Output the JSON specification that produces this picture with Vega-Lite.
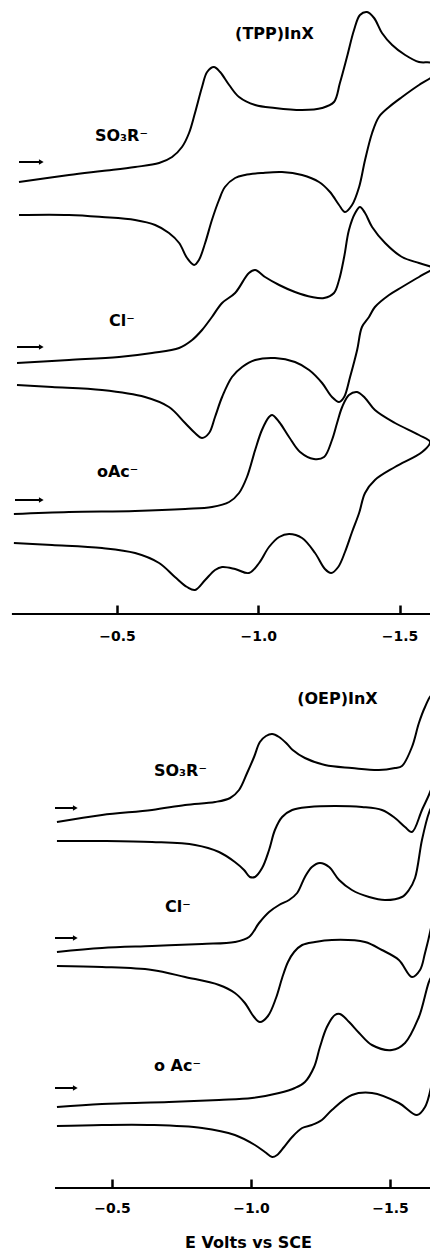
{
  "$schema": "https://vega.github.io/schema/vega-lite/v6.json",
  "background": "white",
  "padding": {"left": 10, "top": 0, "right": 0, "bottom": 0},
  "bounds": "flush",
  "spacing": 66,
  "config": {"view": {"stroke": null}},
  "datasets": {
    "cv": [
      {"p":"TPP","s":"SO3R","o":1,"E":-0.153,"i":432},{"p":"TPP","s":"SO3R","o":2,"E":-0.330,"i":439},{"p":"TPP","s":"SO3R","o":3,"E":-0.447,"i":443},{"p":"TPP","s":"SO3R","o":4,"E":-0.564,"i":447},{"p":"TPP","s":"SO3R","o":5,"E":-0.649,"i":451},{"p":"TPP","s":"SO3R","o":6,"E":-0.695,"i":457},{"p":"TPP","s":"SO3R","o":7,"E":-0.730,"i":467},{"p":"TPP","s":"SO3R","o":8,"E":-0.755,"i":481},{"p":"TPP","s":"SO3R","o":9,"E":-0.776,"i":501},{"p":"TPP","s":"SO3R","o":10,"E":-0.801,"i":527},{"p":"TPP","s":"SO3R","o":11,"E":-0.819,"i":542},{"p":"TPP","s":"SO3R","o":12,"E":-0.843,"i":547},{"p":"TPP","s":"SO3R","o":13,"E":-0.865,"i":542},{"p":"TPP","s":"SO3R","o":14,"E":-0.897,"i":529},{"p":"TPP","s":"SO3R","o":15,"E":-0.932,"i":517},{"p":"TPP","s":"SO3R","o":16,"E":-0.989,"i":509},{"p":"TPP","s":"SO3R","o":17,"E":-1.059,"i":506},{"p":"TPP","s":"SO3R","o":18,"E":-1.155,"i":504},{"p":"TPP","s":"SO3R","o":19,"E":-1.226,"i":506},{"p":"TPP","s":"SO3R","o":20,"E":-1.268,"i":512},{"p":"TPP","s":"SO3R","o":21,"E":-1.289,"i":531},{"p":"TPP","s":"SO3R","o":22,"E":-1.314,"i":557},{"p":"TPP","s":"SO3R","o":23,"E":-1.339,"i":584},{"p":"TPP","s":"SO3R","o":24,"E":-1.360,"i":599},{"p":"TPP","s":"SO3R","o":25,"E":-1.385,"i":602},{"p":"TPP","s":"SO3R","o":26,"E":-1.410,"i":596},{"p":"TPP","s":"SO3R","o":27,"E":-1.438,"i":581},{"p":"TPP","s":"SO3R","o":28,"E":-1.474,"i":569},{"p":"TPP","s":"SO3R","o":29,"E":-1.520,"i":559},{"p":"TPP","s":"SO3R","o":30,"E":-1.569,"i":552},{"p":"TPP","s":"SO3R","o":31,"E":-1.615,"i":551},{"p":"TPP","s":"SO3R","o":32,"E":-1.640,"i":544},{"p":"TPP","s":"SO3R","o":33,"E":-1.615,"i":537},{"p":"TPP","s":"SO3R","o":34,"E":-1.569,"i":529},{"p":"TPP","s":"SO3R","o":35,"E":-1.509,"i":517},{"p":"TPP","s":"SO3R","o":36,"E":-1.463,"i":507},{"p":"TPP","s":"SO3R","o":37,"E":-1.427,"i":497},{"p":"TPP","s":"SO3R","o":38,"E":-1.403,"i":481},{"p":"TPP","s":"SO3R","o":39,"E":-1.378,"i":454},{"p":"TPP","s":"SO3R","o":40,"E":-1.357,"i":427},{"p":"TPP","s":"SO3R","o":41,"E":-1.332,"i":409},{"p":"TPP","s":"SO3R","o":42,"E":-1.307,"i":402},{"p":"TPP","s":"SO3R","o":43,"E":-1.286,"i":409},{"p":"TPP","s":"SO3R","o":44,"E":-1.254,"i":422},{"p":"TPP","s":"SO3R","o":45,"E":-1.215,"i":432},{"p":"TPP","s":"SO3R","o":46,"E":-1.155,"i":439},{"p":"TPP","s":"SO3R","o":47,"E":-1.084,"i":442},{"p":"TPP","s":"SO3R","o":48,"E":-1.013,"i":441},{"p":"TPP","s":"SO3R","o":49,"E":-0.953,"i":439},{"p":"TPP","s":"SO3R","o":50,"E":-0.918,"i":436},{"p":"TPP","s":"SO3R","o":51,"E":-0.882,"i":427},{"p":"TPP","s":"SO3R","o":52,"E":-0.861,"i":414},{"p":"TPP","s":"SO3R","o":53,"E":-0.836,"i":394},{"p":"TPP","s":"SO3R","o":54,"E":-0.812,"i":371},{"p":"TPP","s":"SO3R","o":55,"E":-0.790,"i":354},{"p":"TPP","s":"SO3R","o":56,"E":-0.773,"i":349},{"p":"TPP","s":"SO3R","o":57,"E":-0.748,"i":356},{"p":"TPP","s":"SO3R","o":58,"E":-0.720,"i":371},{"p":"TPP","s":"SO3R","o":59,"E":-0.684,"i":381},{"p":"TPP","s":"SO3R","o":60,"E":-0.635,"i":389},{"p":"TPP","s":"SO3R","o":61,"E":-0.564,"i":394},{"p":"TPP","s":"SO3R","o":62,"E":-0.447,"i":397},{"p":"TPP","s":"SO3R","o":63,"E":-0.330,"i":399},{"p":"TPP","s":"SO3R","o":64,"E":-0.153,"i":399},
      {"p":"TPP","s":"Cl","o":1,"E":-0.146,"i":251},{"p":"TPP","s":"Cl","o":2,"E":-0.330,"i":254},{"p":"TPP","s":"Cl","o":3,"E":-0.507,"i":257},{"p":"TPP","s":"Cl","o":4,"E":-0.624,"i":261},{"p":"TPP","s":"Cl","o":5,"E":-0.720,"i":266},{"p":"TPP","s":"Cl","o":6,"E":-0.766,"i":274},{"p":"TPP","s":"Cl","o":7,"E":-0.801,"i":284},{"p":"TPP","s":"Cl","o":8,"E":-0.836,"i":297},{"p":"TPP","s":"Cl","o":9,"E":-0.872,"i":311},{"p":"TPP","s":"Cl","o":10,"E":-0.918,"i":321},{"p":"TPP","s":"Cl","o":11,"E":-0.967,"i":341},{"p":"TPP","s":"Cl","o":12,"E":-0.989,"i":344},{"p":"TPP","s":"Cl","o":13,"E":-1.024,"i":337},{"p":"TPP","s":"Cl","o":14,"E":-1.074,"i":329},{"p":"TPP","s":"Cl","o":15,"E":-1.130,"i":322},{"p":"TPP","s":"Cl","o":16,"E":-1.190,"i":317},{"p":"TPP","s":"Cl","o":17,"E":-1.233,"i":316},{"p":"TPP","s":"Cl","o":18,"E":-1.268,"i":321},{"p":"TPP","s":"Cl","o":19,"E":-1.286,"i":334},{"p":"TPP","s":"Cl","o":20,"E":-1.304,"i":357},{"p":"TPP","s":"Cl","o":21,"E":-1.321,"i":384},{"p":"TPP","s":"Cl","o":22,"E":-1.343,"i":401},{"p":"TPP","s":"Cl","o":23,"E":-1.360,"i":407},{"p":"TPP","s":"Cl","o":24,"E":-1.378,"i":401},{"p":"TPP","s":"Cl","o":25,"E":-1.403,"i":387},{"p":"TPP","s":"Cl","o":26,"E":-1.449,"i":371},{"p":"TPP","s":"Cl","o":27,"E":-1.509,"i":357},{"p":"TPP","s":"Cl","o":28,"E":-1.569,"i":351},{"p":"TPP","s":"Cl","o":29,"E":-1.615,"i":347},{"p":"TPP","s":"Cl","o":30,"E":-1.640,"i":345},{"p":"TPP","s":"Cl","o":31,"E":-1.615,"i":344},{"p":"TPP","s":"Cl","o":32,"E":-1.569,"i":337},{"p":"TPP","s":"Cl","o":33,"E":-1.509,"i":327},{"p":"TPP","s":"Cl","o":34,"E":-1.463,"i":319},{"p":"TPP","s":"Cl","o":35,"E":-1.413,"i":307},{"p":"TPP","s":"Cl","o":36,"E":-1.392,"i":297},{"p":"TPP","s":"Cl","o":37,"E":-1.367,"i":287},{"p":"TPP","s":"Cl","o":38,"E":-1.350,"i":264},{"p":"TPP","s":"Cl","o":39,"E":-1.325,"i":237},{"p":"TPP","s":"Cl","o":40,"E":-1.304,"i":217},{"p":"TPP","s":"Cl","o":41,"E":-1.286,"i":212},{"p":"TPP","s":"Cl","o":42,"E":-1.261,"i":217},{"p":"TPP","s":"Cl","o":43,"E":-1.226,"i":231},{"p":"TPP","s":"Cl","o":44,"E":-1.180,"i":244},{"p":"TPP","s":"Cl","o":45,"E":-1.130,"i":252},{"p":"TPP","s":"Cl","o":46,"E":-1.059,"i":256},{"p":"TPP","s":"Cl","o":47,"E":-0.989,"i":254},{"p":"TPP","s":"Cl","o":48,"E":-0.943,"i":247},{"p":"TPP","s":"Cl","o":49,"E":-0.907,"i":237},{"p":"TPP","s":"Cl","o":50,"E":-0.872,"i":217},{"p":"TPP","s":"Cl","o":51,"E":-0.847,"i":197},{"p":"TPP","s":"Cl","o":52,"E":-0.826,"i":181},{"p":"TPP","s":"Cl","o":53,"E":-0.801,"i":176},{"p":"TPP","s":"Cl","o":54,"E":-0.776,"i":181},{"p":"TPP","s":"Cl","o":55,"E":-0.741,"i":191},{"p":"TPP","s":"Cl","o":56,"E":-0.684,"i":207},{"p":"TPP","s":"Cl","o":57,"E":-0.599,"i":217},{"p":"TPP","s":"Cl","o":58,"E":-0.447,"i":224},{"p":"TPP","s":"Cl","o":59,"E":-0.270,"i":227},{"p":"TPP","s":"Cl","o":60,"E":-0.146,"i":229},
      {"p":"TPP","s":"OAc","o":1,"E":-0.135,"i":100},{"p":"TPP","s":"OAc","o":2,"E":-0.330,"i":102},{"p":"TPP","s":"OAc","o":3,"E":-0.564,"i":103},{"p":"TPP","s":"OAc","o":4,"E":-0.741,"i":105},{"p":"TPP","s":"OAc","o":5,"E":-0.836,"i":107},{"p":"TPP","s":"OAc","o":6,"E":-0.897,"i":112},{"p":"TPP","s":"OAc","o":7,"E":-0.932,"i":121},{"p":"TPP","s":"OAc","o":8,"E":-0.960,"i":137},{"p":"TPP","s":"OAc","o":9,"E":-0.989,"i":164},{"p":"TPP","s":"OAc","o":10,"E":-1.013,"i":184},{"p":"TPP","s":"OAc","o":11,"E":-1.038,"i":197},{"p":"TPP","s":"OAc","o":12,"E":-1.049,"i":199},{"p":"TPP","s":"OAc","o":13,"E":-1.074,"i":192},{"p":"TPP","s":"OAc","o":14,"E":-1.109,"i":177},{"p":"TPP","s":"OAc","o":15,"E":-1.148,"i":162},{"p":"TPP","s":"OAc","o":16,"E":-1.197,"i":155},{"p":"TPP","s":"OAc","o":17,"E":-1.233,"i":157},{"p":"TPP","s":"OAc","o":18,"E":-1.261,"i":174},{"p":"TPP","s":"OAc","o":19,"E":-1.279,"i":191},{"p":"TPP","s":"OAc","o":20,"E":-1.297,"i":207},{"p":"TPP","s":"OAc","o":21,"E":-1.321,"i":219},{"p":"TPP","s":"OAc","o":22,"E":-1.350,"i":222},{"p":"TPP","s":"OAc","o":23,"E":-1.378,"i":216},{"p":"TPP","s":"OAc","o":24,"E":-1.413,"i":204},{"p":"TPP","s":"OAc","o":25,"E":-1.484,"i":191},{"p":"TPP","s":"OAc","o":26,"E":-1.569,"i":179},{"p":"TPP","s":"OAc","o":27,"E":-1.608,"i":172},{"p":"TPP","s":"OAc","o":28,"E":-1.580,"i":162},{"p":"TPP","s":"OAc","o":29,"E":-1.484,"i":147},{"p":"TPP","s":"OAc","o":30,"E":-1.413,"i":134},{"p":"TPP","s":"OAc","o":31,"E":-1.378,"i":121},{"p":"TPP","s":"OAc","o":32,"E":-1.357,"i":101},{"p":"TPP","s":"OAc","o":33,"E":-1.332,"i":82},{"p":"TPP","s":"OAc","o":34,"E":-1.307,"i":62},{"p":"TPP","s":"OAc","o":35,"E":-1.283,"i":47},{"p":"TPP","s":"OAc","o":36,"E":-1.258,"i":41},{"p":"TPP","s":"OAc","o":37,"E":-1.236,"i":45},{"p":"TPP","s":"OAc","o":38,"E":-1.201,"i":61},{"p":"TPP","s":"OAc","o":39,"E":-1.155,"i":76},{"p":"TPP","s":"OAc","o":40,"E":-1.109,"i":80},{"p":"TPP","s":"OAc","o":41,"E":-1.074,"i":77},{"p":"TPP","s":"OAc","o":42,"E":-1.038,"i":67},{"p":"TPP","s":"OAc","o":43,"E":-1.003,"i":51},{"p":"TPP","s":"OAc","o":44,"E":-0.967,"i":41},{"p":"TPP","s":"OAc","o":45,"E":-0.918,"i":45},{"p":"TPP","s":"OAc","o":46,"E":-0.872,"i":47},{"p":"TPP","s":"OAc","o":47,"E":-0.847,"i":44},{"p":"TPP","s":"OAc","o":48,"E":-0.812,"i":34},{"p":"TPP","s":"OAc","o":49,"E":-0.776,"i":24},{"p":"TPP","s":"OAc","o":50,"E":-0.748,"i":27},{"p":"TPP","s":"OAc","o":51,"E":-0.705,"i":37},{"p":"TPP","s":"OAc","o":52,"E":-0.649,"i":51},{"p":"TPP","s":"OAc","o":53,"E":-0.564,"i":61},{"p":"TPP","s":"OAc","o":54,"E":-0.447,"i":66},{"p":"TPP","s":"OAc","o":55,"E":-0.270,"i":69},{"p":"TPP","s":"OAc","o":56,"E":-0.135,"i":71},
      {"p":"OEP","s":"SO3R","o":1,"E":-0.302,"i":366},{"p":"OEP","s":"SO3R","o":2,"E":-0.464,"i":373},{"p":"OEP","s":"SO3R","o":3,"E":-0.644,"i":378},{"p":"OEP","s":"SO3R","o":4,"E":-0.763,"i":383},{"p":"OEP","s":"SO3R","o":5,"E":-0.871,"i":386},{"p":"OEP","s":"SO3R","o":6,"E":-0.925,"i":390},{"p":"OEP","s":"SO3R","o":7,"E":-0.957,"i":398},{"p":"OEP","s":"SO3R","o":8,"E":-0.986,"i":415},{"p":"OEP","s":"SO3R","o":9,"E":-1.011,"i":431},{"p":"OEP","s":"SO3R","o":10,"E":-1.032,"i":446},{"p":"OEP","s":"SO3R","o":11,"E":-1.054,"i":452},{"p":"OEP","s":"SO3R","o":12,"E":-1.076,"i":454},{"p":"OEP","s":"SO3R","o":13,"E":-1.101,"i":451},{"p":"OEP","s":"SO3R","o":14,"E":-1.130,"i":444},{"p":"OEP","s":"SO3R","o":15,"E":-1.150,"i":438},{"p":"OEP","s":"SO3R","o":16,"E":-1.194,"i":430},{"p":"OEP","s":"SO3R","o":17,"E":-1.266,"i":423},{"p":"OEP","s":"SO3R","o":18,"E":-1.363,"i":420},{"p":"OEP","s":"SO3R","o":19,"E":-1.460,"i":418},{"p":"OEP","s":"SO3R","o":20,"E":-1.518,"i":420},{"p":"OEP","s":"SO3R","o":21,"E":-1.543,"i":422},{"p":"OEP","s":"SO3R","o":22,"E":-1.579,"i":441},{"p":"OEP","s":"SO3R","o":23,"E":-1.604,"i":465},{"p":"OEP","s":"SO3R","o":24,"E":-1.626,"i":481},{"p":"OEP","s":"SO3R","o":25,"E":-1.651,"i":493},{"p":"OEP","s":"SO3R","o":26,"E":-1.690,"i":450},{"p":"OEP","s":"SO3R","o":27,"E":-1.651,"i":401},{"p":"OEP","s":"SO3R","o":28,"E":-1.615,"i":378},{"p":"OEP","s":"SO3R","o":29,"E":-1.579,"i":356},{"p":"OEP","s":"SO3R","o":30,"E":-1.554,"i":361},{"p":"OEP","s":"SO3R","o":31,"E":-1.518,"i":370},{"p":"OEP","s":"SO3R","o":32,"E":-1.471,"i":378},{"p":"OEP","s":"SO3R","o":33,"E":-1.399,"i":381},{"p":"OEP","s":"SO3R","o":34,"E":-1.302,"i":382},{"p":"OEP","s":"SO3R","o":35,"E":-1.209,"i":381},{"p":"OEP","s":"SO3R","o":36,"E":-1.148,"i":378},{"p":"OEP","s":"SO3R","o":37,"E":-1.112,"i":371},{"p":"OEP","s":"SO3R","o":38,"E":-1.086,"i":358},{"p":"OEP","s":"SO3R","o":39,"E":-1.065,"i":338},{"p":"OEP","s":"SO3R","o":40,"E":-1.040,"i":320},{"p":"OEP","s":"SO3R","o":41,"E":-1.014,"i":311},{"p":"OEP","s":"SO3R","o":42,"E":-0.996,"i":311},{"p":"OEP","s":"SO3R","o":43,"E":-0.975,"i":318},{"p":"OEP","s":"SO3R","o":44,"E":-0.942,"i":326},{"p":"OEP","s":"SO3R","o":45,"E":-0.885,"i":336},{"p":"OEP","s":"SO3R","o":46,"E":-0.799,"i":343},{"p":"OEP","s":"SO3R","o":47,"E":-0.644,"i":346},{"p":"OEP","s":"SO3R","o":48,"E":-0.464,"i":347},{"p":"OEP","s":"SO3R","o":49,"E":-0.302,"i":347},
      {"p":"OEP","s":"Cl","o":1,"E":-0.302,"i":236},{"p":"OEP","s":"Cl","o":2,"E":-0.464,"i":240},{"p":"OEP","s":"Cl","o":3,"E":-0.644,"i":242},{"p":"OEP","s":"Cl","o":4,"E":-0.824,"i":244},{"p":"OEP","s":"Cl","o":5,"E":-0.942,"i":246},{"p":"OEP","s":"Cl","o":6,"E":-0.993,"i":251},{"p":"OEP","s":"Cl","o":7,"E":-1.029,"i":265},{"p":"OEP","s":"Cl","o":8,"E":-1.065,"i":276},{"p":"OEP","s":"Cl","o":9,"E":-1.101,"i":283},{"p":"OEP","s":"Cl","o":10,"E":-1.137,"i":288},{"p":"OEP","s":"Cl","o":11,"E":-1.166,"i":295},{"p":"OEP","s":"Cl","o":12,"E":-1.194,"i":311},{"p":"OEP","s":"Cl","o":13,"E":-1.219,"i":321},{"p":"OEP","s":"Cl","o":14,"E":-1.248,"i":325},{"p":"OEP","s":"Cl","o":15,"E":-1.281,"i":321},{"p":"OEP","s":"Cl","o":16,"E":-1.317,"i":308},{"p":"OEP","s":"Cl","o":17,"E":-1.363,"i":298},{"p":"OEP","s":"Cl","o":18,"E":-1.425,"i":291},{"p":"OEP","s":"Cl","o":19,"E":-1.482,"i":288},{"p":"OEP","s":"Cl","o":20,"E":-1.543,"i":291},{"p":"OEP","s":"Cl","o":21,"E":-1.568,"i":298},{"p":"OEP","s":"Cl","o":22,"E":-1.590,"i":310},{"p":"OEP","s":"Cl","o":23,"E":-1.615,"i":348},{"p":"OEP","s":"Cl","o":24,"E":-1.640,"i":375},{"p":"OEP","s":"Cl","o":25,"E":-1.651,"i":381},{"p":"OEP","s":"Cl","o":26,"E":-1.690,"i":330},{"p":"OEP","s":"Cl","o":27,"E":-1.651,"i":265},{"p":"OEP","s":"Cl","o":28,"E":-1.626,"i":235},{"p":"OEP","s":"Cl","o":29,"E":-1.608,"i":218},{"p":"OEP","s":"Cl","o":30,"E":-1.579,"i":211},{"p":"OEP","s":"Cl","o":31,"E":-1.532,"i":228},{"p":"OEP","s":"Cl","o":32,"E":-1.471,"i":238},{"p":"OEP","s":"Cl","o":33,"E":-1.410,"i":246},{"p":"OEP","s":"Cl","o":34,"E":-1.291,"i":248},{"p":"OEP","s":"Cl","o":35,"E":-1.230,"i":246},{"p":"OEP","s":"Cl","o":36,"E":-1.184,"i":243},{"p":"OEP","s":"Cl","o":37,"E":-1.155,"i":236},{"p":"OEP","s":"Cl","o":38,"E":-1.133,"i":226},{"p":"OEP","s":"Cl","o":39,"E":-1.112,"i":210},{"p":"OEP","s":"Cl","o":40,"E":-1.090,"i":190},{"p":"OEP","s":"Cl","o":41,"E":-1.061,"i":172},{"p":"OEP","s":"Cl","o":42,"E":-1.032,"i":166},{"p":"OEP","s":"Cl","o":43,"E":-1.011,"i":171},{"p":"OEP","s":"Cl","o":44,"E":-0.978,"i":185},{"p":"OEP","s":"Cl","o":45,"E":-0.942,"i":195},{"p":"OEP","s":"Cl","o":46,"E":-0.885,"i":203},{"p":"OEP","s":"Cl","o":47,"E":-0.763,"i":211},{"p":"OEP","s":"Cl","o":48,"E":-0.644,"i":218},{"p":"OEP","s":"Cl","o":49,"E":-0.464,"i":221},{"p":"OEP","s":"Cl","o":50,"E":-0.302,"i":222},
      {"p":"OEP","s":"OAc","o":1,"E":-0.302,"i":81},{"p":"OEP","s":"OAc","o":2,"E":-0.464,"i":84},{"p":"OEP","s":"OAc","o":3,"E":-0.705,"i":86},{"p":"OEP","s":"OAc","o":4,"E":-0.885,"i":88},{"p":"OEP","s":"OAc","o":5,"E":-1.004,"i":90},{"p":"OEP","s":"OAc","o":6,"E":-1.101,"i":95},{"p":"OEP","s":"OAc","o":7,"E":-1.158,"i":100},{"p":"OEP","s":"OAc","o":8,"E":-1.194,"i":106},{"p":"OEP","s":"OAc","o":9,"E":-1.227,"i":121},{"p":"OEP","s":"OAc","o":10,"E":-1.248,"i":141},{"p":"OEP","s":"OAc","o":11,"E":-1.273,"i":161},{"p":"OEP","s":"OAc","o":12,"E":-1.302,"i":173},{"p":"OEP","s":"OAc","o":13,"E":-1.320,"i":174},{"p":"OEP","s":"OAc","o":14,"E":-1.353,"i":166},{"p":"OEP","s":"OAc","o":15,"E":-1.389,"i":155},{"p":"OEP","s":"OAc","o":16,"E":-1.435,"i":143},{"p":"OEP","s":"OAc","o":17,"E":-1.507,"i":138},{"p":"OEP","s":"OAc","o":18,"E":-1.554,"i":145},{"p":"OEP","s":"OAc","o":19,"E":-1.604,"i":171},{"p":"OEP","s":"OAc","o":20,"E":-1.651,"i":211},{"p":"OEP","s":"OAc","o":21,"E":-1.690,"i":170},{"p":"OEP","s":"OAc","o":22,"E":-1.651,"i":105},{"p":"OEP","s":"OAc","o":23,"E":-1.626,"i":81},{"p":"OEP","s":"OAc","o":24,"E":-1.597,"i":73},{"p":"OEP","s":"OAc","o":25,"E":-1.532,"i":85},{"p":"OEP","s":"OAc","o":26,"E":-1.435,"i":95},{"p":"OEP","s":"OAc","o":27,"E":-1.363,"i":93},{"p":"OEP","s":"OAc","o":28,"E":-1.291,"i":78},{"p":"OEP","s":"OAc","o":29,"E":-1.255,"i":68},{"p":"OEP","s":"OAc","o":30,"E":-1.219,"i":63},{"p":"OEP","s":"OAc","o":31,"E":-1.184,"i":60},{"p":"OEP","s":"OAc","o":32,"E":-1.148,"i":51},{"p":"OEP","s":"OAc","o":33,"E":-1.119,"i":41},{"p":"OEP","s":"OAc","o":34,"E":-1.094,"i":33},{"p":"OEP","s":"OAc","o":35,"E":-1.076,"i":31},{"p":"OEP","s":"OAc","o":36,"E":-1.050,"i":36},{"p":"OEP","s":"OAc","o":37,"E":-1.014,"i":43},{"p":"OEP","s":"OAc","o":38,"E":-0.942,"i":53},{"p":"OEP","s":"OAc","o":39,"E":-0.824,"i":60},{"p":"OEP","s":"OAc","o":40,"E":-0.644,"i":63},{"p":"OEP","s":"OAc","o":41,"E":-0.464,"i":63},{"p":"OEP","s":"OAc","o":42,"E":-0.302,"i":62}
    ],
    "labels": [
      {"p":"TPP","t":"(TPP)InX","E":-0.918,"i":580},
      {"p":"TPP","t":"SO₃R⁻","E":-0.422,"i":478},
      {"p":"TPP","t":"Cl⁻","E":-0.472,"i":293},
      {"p":"TPP","t":"oAc⁻","E":-0.429,"i":142},
      {"p":"OEP","t":"(OEP)InX","E":-1.166,"i":489},
      {"p":"OEP","t":"SO₃R⁻","E":-0.651,"i":417},
      {"p":"OEP","t":"Cl⁻","E":-0.691,"i":281},
      {"p":"OEP","t":"o Ac⁻","E":-0.651,"i":122}
    ],
    "arrows": [
      {"p":"TPP","E":-0.153,"E2":-0.232,"i":452},
      {"p":"TPP","E":-0.146,"E2":-0.232,"i":267},
      {"p":"TPP","E":-0.139,"E2":-0.232,"i":114},
      {"p":"OEP","E":-0.295,"E2":-0.368,"i":380},
      {"p":"OEP","E":-0.295,"E2":-0.368,"i":250},
      {"p":"OEP","E":-0.295,"E2":-0.368,"i":100}
    ],
    "heads": [
      {"p":"TPP","E":-0.232,"i":452},
      {"p":"TPP","E":-0.232,"i":267},
      {"p":"TPP","E":-0.232,"i":114},
      {"p":"OEP","E":-0.368,"i":380},
      {"p":"OEP","E":-0.368,"i":250},
      {"p":"OEP","E":-0.368,"i":100}
    ],
    "axisline": [
      {"p":"TPP","E":-0.128,"E2":-1.608,"i":0},
      {"p":"OEP","E":-0.295,"E2":-1.651,"i":0}
    ]
  },
  "vconcat": [
    {
      "width": 420,
      "height": 614,
      "encoding": {
        "x": {"field": "E", "type": "quantitative",
          "scale": {"domain": [-1.615, -0.1283], "reverse": true, "nice": false, "zero": false},
          "axis": {"values": [-0.5, -1.0, -1.5], "format": ".1f", "title": null, "domain": false, "grid": false, "offset": -9,
            "ticks": true, "tickSize": 9, "tickWidth": 2.5, "tickColor": "black", "tickOpacity": 1, "labelFont": "DejaVu Sans", "labelFontWeight": "bold",
            "labelFontSize": 14, "labelColor": "black", "labelPadding": 15, "labelFlush": false}},
        "y": {"field": "i", "type": "quantitative", "scale": {"domain": [0, 614], "nice": false, "zero": false}, "axis": null}
      },
      "layer": [
        {"data": {"name": "cv"}, "transform": [{"filter": "datum.p === 'TPP'"}],
          "mark": {"type": "line", "clip": true, "interpolate": "catmull-rom", "stroke": "black", "strokeWidth": 2},
          "encoding": {"detail": {"field": "s"}, "order": {"field": "o", "type": "quantitative"}}},
        {"data": {"name": "axisline"}, "transform": [{"filter": "datum.p === 'TPP'"}],
          "mark": {"type": "rule", "stroke": "black", "strokeWidth": 2},
          "encoding": {"x2": {"field": "E2"}}},
        {"data": {"name": "arrows"}, "transform": [{"filter": "datum.p === 'TPP'"}],
          "mark": {"type": "rule", "stroke": "black", "strokeWidth": 2},
          "encoding": {"x2": {"field": "E2"}}},
        {"data": {"name": "heads"}, "transform": [{"filter": "datum.p === 'TPP'"}],
          "mark": {"type": "point", "shape": "triangle-right", "filled": true, "color": "black", "size": 30, "opacity": 1},
          "encoding": {}},
        {"data": {"name": "labels"}, "transform": [{"filter": "datum.p === 'TPP'"}],
          "mark": {"type": "text", "align": "left", "baseline": "middle", "font": "DejaVu Sans", "fontWeight": "bold", "fontSize": 16, "color": "black"},
          "encoding": {"text": {"field": "t"}}}
      ]
    },
    {
      "width": 420,
      "height": 508,
      "encoding": {
        "x": {"field": "E", "type": "quantitative",
          "scale": {"domain": [-1.6511, -0.1403], "reverse": true, "nice": false, "zero": false},
          "axis": {"values": [-0.5, -1.0, -1.5], "format": ".1f", "title": "E Volts vs SCE", "domain": false, "grid": false, "offset": -9,
            "ticks": true, "tickSize": 9, "tickWidth": 2.5, "tickColor": "black", "tickOpacity": 1, "labelFont": "DejaVu Sans", "labelFontWeight": "bold",
            "labelFontSize": 14, "labelColor": "black", "labelPadding": 13, "labelFlush": false,
            "titleFont": "DejaVu Sans", "titleFontWeight": "bold", "titleFontSize": 16, "titleColor": "black",
            "titleX": 236, "titleY": 68, "titleAlign": "center", "titleBaseline": "alphabetic", "titleAnchor": null}},
        "y": {"field": "i", "type": "quantitative", "scale": {"domain": [0, 508], "nice": false, "zero": false}, "axis": null}
      },
      "layer": [
        {"data": {"name": "cv"}, "transform": [{"filter": "datum.p === 'OEP'"}],
          "mark": {"type": "line", "clip": true, "interpolate": "catmull-rom", "stroke": "black", "strokeWidth": 2},
          "encoding": {"detail": {"field": "s"}, "order": {"field": "o", "type": "quantitative"}}},
        {"data": {"name": "axisline"}, "transform": [{"filter": "datum.p === 'OEP'"}],
          "mark": {"type": "rule", "stroke": "black", "strokeWidth": 2},
          "encoding": {"x2": {"field": "E2"}}},
        {"data": {"name": "arrows"}, "transform": [{"filter": "datum.p === 'OEP'"}],
          "mark": {"type": "rule", "stroke": "black", "strokeWidth": 2},
          "encoding": {"x2": {"field": "E2"}}},
        {"data": {"name": "heads"}, "transform": [{"filter": "datum.p === 'OEP'"}],
          "mark": {"type": "point", "shape": "triangle-right", "filled": true, "color": "black", "size": 30, "opacity": 1},
          "encoding": {}},
        {"data": {"name": "labels"}, "transform": [{"filter": "datum.p === 'OEP'"}],
          "mark": {"type": "text", "align": "left", "baseline": "middle", "font": "DejaVu Sans", "fontWeight": "bold", "fontSize": 16, "color": "black"},
          "encoding": {"text": {"field": "t"}}}
      ]
    }
  ]
}
